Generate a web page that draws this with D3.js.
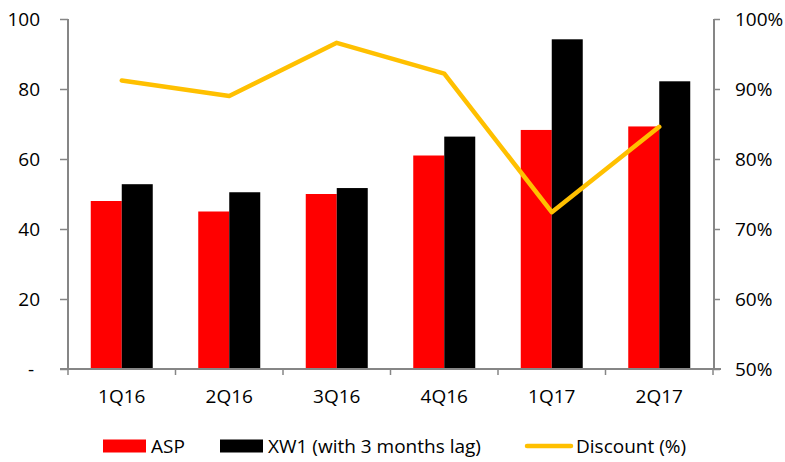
<!DOCTYPE html>
<html>
<head>
<meta charset="utf-8">
<script src="https://cdn.jsdelivr.net/npm/d3@7"></script>
<style>
  body { margin: 0; background: #fff; }
  text { font-family: "Open Sans", sans-serif; fill: #000; }
</style>
</head>
<body>
<div id="chart"></div>
<script>
var width = 785
var height = 462

var quarters = ['1Q16', '2Q16', '3Q16', '4Q16', '1Q17', '2Q17']
var asp = [48, 45, 50, 61, 68.3, 69.3]
var xw1 = [52.8, 50.5, 51.7, 66.4, 94.2, 82.2]
var discount = [0.912, 0.89, 0.966, 0.922, 0.724, 0.846]

var leftTicks = [0, 20, 40, 60, 80, 100]
var rightTicks = [0.5, 0.6, 0.7, 0.8, 0.9, 1.0]

var margin = { top: 19, left: 68, right: 72, bottom: 93 }
var plotW = width - margin.left - margin.right
var plotH = height - margin.top - margin.bottom

var svg = d3.select('#chart').append('svg')
    .attr('width', width)
    .attr('height', height)

var g = svg.append('g')
    .attr('transform', 'translate(' + margin.left + ',' + margin.top + ')')

var x = d3.scaleBand().domain(quarters).range([0, plotW])
var y = d3.scaleLinear().domain([0, 100]).range([plotH, 0])
var y2 = d3.scaleLinear().domain([0.5, 1]).range([plotH, 0])

var barW = 31

// bars
g.selectAll('.asp').data(quarters)
    .enter().append('rect')
    .attr('class', 'asp')
    .attr('x', function(d) { return x(d) + x.bandwidth() / 2 - barW })
    .attr('y', function(d, i) { return y(asp[i]) })
    .attr('width', barW)
    .attr('height', function(d, i) { return plotH - y(asp[i]) })
    .attr('fill', '#ff0000')

g.selectAll('.xw1').data(quarters)
    .enter().append('rect')
    .attr('class', 'xw1')
    .attr('x', function(d) { return x(d) + x.bandwidth() / 2 })
    .attr('y', function(d, i) { return y(xw1[i]) })
    .attr('width', barW)
    .attr('height', function(d, i) { return plotH - y(xw1[i]) })
    .attr('fill', '#000')

// axes
var axisColor = '#868686'

var leftAxis = g.append('g')
    .call(d3.axisLeft(y).tickValues(leftTicks).tickSize(8)
        .tickFormat(function(d) { return d === 0 ? '-' : d }))
leftAxis.select('.domain').attr('stroke', axisColor).attr('stroke-width', 2)
    .attr('d', 'M0,0V' + plotH)
leftAxis.selectAll('line').attr('stroke', axisColor).attr('stroke-width', 1.5)
leftAxis.selectAll('text')
    .attr('x', -28)
    .attr('dy', '0.35em')
    .style('font-size', '19px')
leftAxis.selectAll('.tick').filter(function(d) { return d === 0 })
    .select('text').attr('x', -34)

var rightAxis = g.append('g')
    .attr('transform', 'translate(' + (plotW + 1) + ',0)')
    .call(d3.axisRight(y2).tickValues(rightTicks).tickSize(6)
        .tickFormat(d3.format('.0%')))
rightAxis.select('.domain').attr('stroke', axisColor).attr('stroke-width', 2)
    .attr('d', 'M0,0V' + plotH)
rightAxis.selectAll('line').attr('stroke', axisColor).attr('stroke-width', 1.5)
rightAxis.selectAll('text')
    .attr('x', 21)
    .attr('dy', '0.35em')
    .style('font-size', '19px')

var bottom = g.append('g')
    .attr('transform', 'translate(0,' + plotH + ')')
bottom.append('line')
    .attr('x1', -8).attr('x2', plotW + 8)
    .attr('stroke', axisColor).attr('stroke-width', 2)
bottom.selectAll('.tk').data(d3.range(quarters.length + 1))
    .enter().append('line')
    .attr('x1', function(i) { return i * x.step() })
    .attr('x2', function(i) { return i * x.step() })
    .attr('y1', 0).attr('y2', 6)
    .attr('stroke', axisColor).attr('stroke-width', 1.5)
bottom.selectAll('.lbl').data(quarters)
    .enter().append('text')
    .attr('x', function(d) { return x(d) + x.bandwidth() / 2 })
    .attr('y', 34)
    .attr('text-anchor', 'middle')
    .style('font-size', '19px')
    .text(function(d) { return d })

// discount line
var line = d3.line()
    .x(function(d, i) { return x(quarters[i]) + x.bandwidth() / 2 })
    .y(function(d) { return y2(d) })

g.append('path')
    .datum(discount)
    .attr('d', line)
    .attr('fill', 'none')
    .attr('stroke', '#ffc000')
    .attr('stroke-width', 4.5)
    .attr('stroke-linejoin', 'round')
    .attr('stroke-linecap', 'round')

// legend
var legend = svg.append('g').attr('transform', 'translate(0,446)')
var legendItems = [
    { label: 'ASP', type: 'rect', color: '#ff0000', x: 103 },
    { label: 'XW1 (with 3 months lag)', type: 'rect', color: '#000', x: 220 },
    { label: 'Discount (%)', type: 'line', color: '#ffc000', x: 527 }
]
legendItems.forEach(function(d) {
    if (d.type === 'rect') {
        legend.append('rect')
            .attr('x', d.x).attr('y', -6.5)
            .attr('width', 43).attr('height', 13)
            .attr('fill', d.color)
    } else {
        legend.append('line')
            .attr('x1', d.x).attr('x2', d.x + 44)
            .attr('stroke', d.color).attr('stroke-width', 4.5)
            .attr('stroke-linecap', 'round')
    }
    legend.append('text')
        .attr('x', d.x + (d.type === 'rect' ? 48 : 49))
        .attr('dy', '0.35em')
        .style('font-size', '19px')
        .text(d.label)
})
</script>
</body>
</html>
